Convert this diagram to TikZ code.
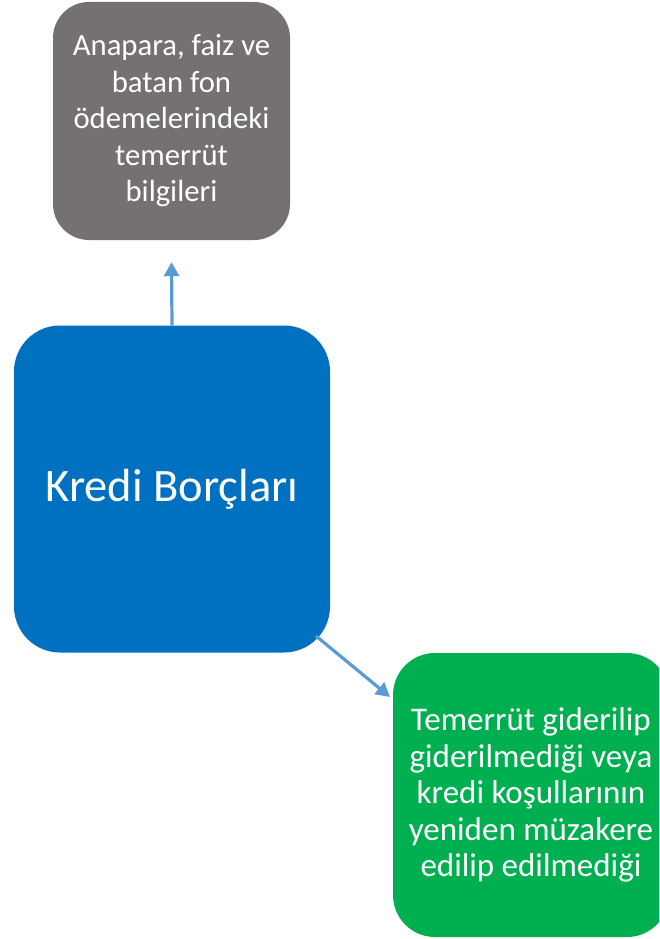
\documentclass[tikz,border=0pt]{standalone}
\usepackage{fontspec}
\setmainfont{Carlito}
\usetikzlibrary{arrows.meta}
\definecolor{boxgray}{HTML}{767171}
\definecolor{boxblue}{HTML}{0070C0}
\definecolor{boxgreen}{HTML}{00B050}
\definecolor{arrowblue}{HTML}{5B9BD5}
\tikzset{
  card/.style={draw=none, inner sep=0pt, text=white, align=center},
  graytext/.style={font=\fontsize{30.7}{36.5}\selectfont},
  greentext/.style={font=\fontsize{33}{36.6}\selectfont},
  conn/.style={draw=arrowblue, line width=3.2pt, -{Triangle[width=15pt,length=14pt]}}
}
\begin{document}
\begin{tikzpicture}[x=1pt,y=-1pt]
\useasboundingbox (0,0) rectangle (659,939);
\clip (0,0) rectangle (659,939);
\node[card, graytext, fill=boxgray, rounded corners=36pt, minimum width=237pt, minimum height=238pt] (gray) at (171.5,121)
  {Anapara, faiz ve\\batan fon\\ödemelerindeki\\temerrüt\\bilgileri};
\node[card, fill=boxblue, rounded corners=46pt, minimum width=316pt, minimum height=327pt, font=\fontsize{46.5}{52}\selectfont] (blue) at (172,489)
  {Kredi Borçları};
\node[card, greentext, fill=boxgreen, rounded corners=42pt, minimum width=276pt, minimum height=284pt] (green) at (531,795)
  {Temerrüt giderilip\\giderilmediği veya\\kredi koşullarının\\yeniden müzakere\\edilip edilmediği};
\coordinate (a1) at (316,636);
\coordinate (a2) at (390,697);
\draw[conn] (blue.north) -- ([yshift=-22pt]gray.south);
\draw[conn] (a1) -- (a2);
\end{tikzpicture}
\end{document}
